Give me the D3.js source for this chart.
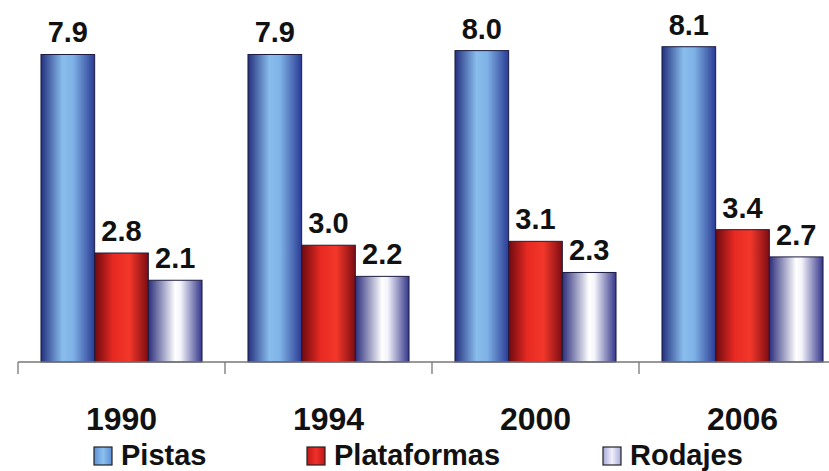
<!doctype html>
<html>
<head>
    <meta charset="utf-8">
    <title>Pistas, Plataformas y Rodajes</title>
    <style type="text/css">
        body { margin: 0; background: #fff; }
        text { font-family: "Liberation Sans", Arial, sans-serif; font-weight: bold; fill: #111; }
        .axis line, .axis path { stroke: #777; stroke-width: 1.3; }
        .bar { stroke: #1c1c40; stroke-width: 1; }
    </style>
</head>
<body>
<div id="chart"></div>
<script src="https://d3js.org/d3.v7.min.js"></script>
<script>
    // data
    var years = ["1990", "1994", "2000", "2006"];
    var series = ["Pistas", "Plataformas", "Rodajes"];
    var pistas = [7.9, 7.9, 8.0, 8.1];
    var plataformas = [2.8, 3.0, 3.1, 3.4];
    var rodajes = [2.1, 2.2, 2.3, 2.7];
    var values = [pistas, plataformas, rodajes];

    var width = 829, height = 471;
    var baseY = 362;

    var svg = d3.select("#chart").append("svg")
        .attr("width", width)
        .attr("height", height);

    // gradients: dark edges, light centre (cylinder look)
    var grads = [
        { id: "gPistas", stops: [["0%", "#24307e"], ["40%", "#88bdec"], ["60%", "#7fb2e6"], ["100%", "#2a3b94"]] },
        { id: "gPlataformas", stops: [["0%", "#6e0a10"], ["35%", "#e82a22"], ["65%", "#f2372a"], ["100%", "#7c0c12"]] },
        { id: "gRodajes", stops: [["0%", "#2c2e7c"], ["50%", "#ffffff"], ["60%", "#f4f4fb"], ["100%", "#34368a"]] }
    ];
    // legend keys are flatter
    var legFill = [
        { id: "lPistas", stops: [["0%", "#5d8fd6"], ["50%", "#8cc0ee"], ["100%", "#5d8fd6"]] },
        { id: "lPlataformas", stops: [["0%", "#c01818"], ["50%", "#f03028"], ["100%", "#c01818"]] },
        { id: "lRodajes", stops: [["0%", "#a8a8dc"], ["50%", "#f0f0fa"], ["100%", "#a8a8dc"]] }
    ];
    var defs = svg.append("defs");
    grads.concat(legFill).forEach(function (g) {
        var lg = defs.append("linearGradient").attr("id", g.id)
            .attr("x1", "0%").attr("x2", "100%").attr("y1", "0%").attr("y2", "0%");
        g.stops.forEach(function (s) {
            lg.append("stop").attr("offset", s[0]).attr("stop-color", s[1]);
        });
    });

    var x0 = d3.scaleBand()
        .domain(years)
        .range([18, 18 + 4 * 207])
        .paddingInner(0.222)
        .paddingOuter(0.111);

    var x1 = d3.scaleBand()
        .domain(series)
        .range([0, x0.bandwidth()]);

    var y = d3.scaleLinear()
        .domain([0, 9.3])
        .range([baseY, 0]);

    // bars
    var groups = svg.selectAll(".grp")
        .data(years)
        .enter().append("g")
        .attr("class", "grp")
        .attr("transform", function (d) { return "translate(" + x0(d) + ",0)"; });

    groups.selectAll("rect")
        .data(function (d, i) { return series.map(function (s, j) { return { s: s, v: values[j][i], k: j }; }); })
        .enter().append("rect")
        .attr("class", "bar")
        .attr("x", function (d) { return x1(d.s); })
        .attr("y", function (d) { return y(d.v); })
        .attr("width", x1.bandwidth())
        .attr("height", function (d) { return baseY - y(d.v); })
        .attr("fill", function (d) { return "url(#" + grads[d.k].id + ")"; });

    groups.selectAll(".lbl")
        .data(function (d, i) { return series.map(function (s, j) { return { s: s, v: values[j][i] }; }); })
        .enter().append("text")
        .attr("class", "lbl")
        .attr("x", function (d) { return x1(d.s) + x1.bandwidth() / 2; })
        .attr("y", function (d) { return y(d.v) - 12; })
        .attr("text-anchor", "middle")
        .style("font-size", "29px")
        .text(function (d) { return d.v.toFixed(1); });

    // axis line with ticks between categories
    var axis = svg.append("g").attr("class", "axis");
    axis.append("line")
        .attr("x1", 18).attr("x2", width)
        .attr("y1", baseY).attr("y2", baseY);
    var bounds = years.map(function (d) { return x0(d) - x0.step() * x0.paddingOuter(); });
    axis.selectAll(".tk")
        .data(bounds)
        .enter().append("line")
        .attr("class", "tk")
        .attr("x1", function (d) { return d; }).attr("x2", function (d) { return d; })
        .attr("y1", baseY).attr("y2", baseY + 12);

    svg.selectAll(".yr")
        .data(years)
        .enter().append("text")
        .attr("class", "yr")
        .attr("x", function (d) { return x0(d) + x0.bandwidth() / 2; })
        .attr("y", 430)
        .attr("text-anchor", "middle")
        .style("font-size", "32px")
        .text(function (d) { return d; });

    // legend
    var legendX = [94, 307, 603];
    var leg = svg.selectAll(".leg")
        .data(series)
        .enter().append("g")
        .attr("class", "leg")
        .attr("transform", function (d, i) { return "translate(" + legendX[i] + ",447)"; });
    leg.append("rect")
        .attr("width", 18).attr("height", 18)
        .attr("fill", function (d, i) { return "url(#" + legFill[i].id + ")"; })
        .attr("stroke", "#222").attr("stroke-width", 1.2);
    leg.append("text")
        .attr("x", 27)
        .attr("y", 18)
        .style("font-size", "29px")
        .text(function (d) { return d; });
</script>
</body>
</html>
